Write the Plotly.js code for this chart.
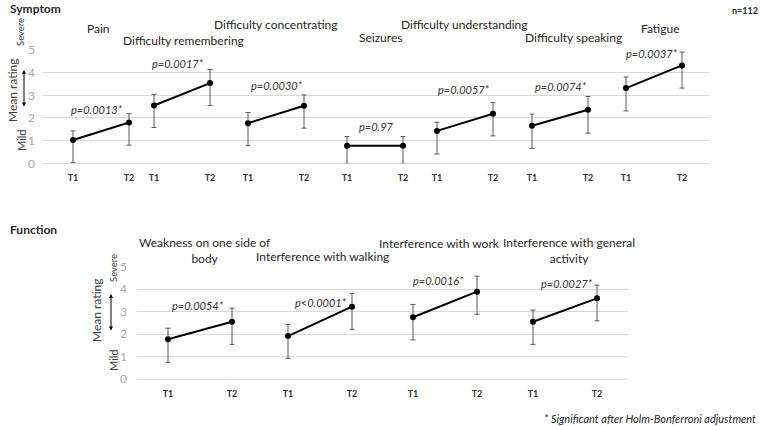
<!DOCTYPE html>
<html>
<head>
<meta charset="utf-8">
<script src="https://cdn.plot.ly/plotly-3.0.1.min.js"></script>
<style>html,body{margin:0;padding:0;background:#fff;}#chart{width:760px;height:426px;}</style>
</head>
<body>
<div id="chart"></div>
<script>
// ---------- data ----------
const timepoints = ["T1", "T2"];

const symptomNames = ["Pain", "Difficulty remembering", "Difficulty concentrating", "Seizures",
  "Difficulty understanding", "Difficulty speaking", "Fatigue"];
const symptomT1 = [1.03, 2.55, 1.77, 0.78, 1.43, 1.66, 3.32];
const symptomT2 = [1.80, 3.54, 2.54, 0.78, 2.19, 2.36, 4.32];
const symptomT1Plus = [0.40, 0.49, 0.47, 0.40, 0.38, 0.51, 0.49];
const symptomT1Minus = [0.99, 0.97, 0.99, 0.78, 1.02, 1.00, 1.01];
const symptomT2Plus = [0.39, 0.60, 0.48, 0.40, 0.49, 0.59, 0.59];
const symptomT2Minus = [1.00, 0.99, 0.99, 0.78, 0.98, 1.03, 1.00];
const symptomP = ["p=0.0013*", "p=0.0017*", "p=0.0030*", "p=0.97", "p=0.0057*", "p=0.0074*", "p=0.0037*"];

const functionNames = ["Weakness on one side of<br>body", "Interference with walking",
  "Interference with work", "Interference with general<br>activity"];
const functionT1 = [1.77, 1.91, 2.75, 2.55];
const functionT2 = [2.55, 3.22, 3.89, 3.59];
const functionT1Plus = [0.49, 0.52, 0.57, 0.52];
const functionT1Minus = [1.03, 0.99, 1.01, 1.01];
const functionT2Plus = [0.60, 0.59, 0.69, 0.59];
const functionT2Minus = [1.01, 1.01, 1.01, 1.00];
const functionP = ["p=0.0054*", "p<0.0001*", "p=0.0016*", "p=0.0027*"];

const yTicks = [0, 1, 2, 3, 4, 5];

// ---------- layout constants (pixels) ----------
const W = 760, H = 426;
const FONT = "Lato, 'Open Sans', sans-serif";
const px = x => x / W;
const py = y => 1 - y / H;

const topPanel = {plotL: 42, plotR: 710, plotT: 50, plotB: 163.3, yStandoff: 6,
  groupT1: [73, 154, 248, 347, 437, 532, 626], step: 56,
  titles: [[99, 29], [183, 40], [276, 24], [380, 38], [465, 24], [573, 38], [660, 29]],
  pvals: [[97, 110], [178, 64], [277, 85], [376, 127], [464, 90], [561, 87], [652, 53]]};
const botPanel = {plotL: 137, plotR: 628, plotT: 266.7, plotB: 379, yStandoff: 9,
  groupT1: [168, 288, 413, 533], step: 64,
  titles: [[205, 250], [322, 256], [439, 243], [569, 250]],
  pvals: [[198, 305], [321, 302], [438, 280], [567, 283]]};

const traces = [];
const layout = {
  width: W, height: H, margin: {l: 0, r: 0, t: 0, b: 0},
  paper_bgcolor: "#fff", plot_bgcolor: "rgba(0,0,0,0)",
  showlegend: false, font: {family: FONT, color: "#404040"},
  annotations: [], shapes: []
};

function yAxisDef(panel, anchor) {
  return {domain: [py(panel.plotB), py(panel.plotT)], anchor: anchor, range: [0, 5],
    tickvals: yTicks, showgrid: true, gridcolor: "#d9d9d9", gridwidth: 1,
    zeroline: true, zerolinecolor: "#d9d9d9", zerolinewidth: 1, showline: false,
    ticks: "", ticklabelstandoff: panel.yStandoff,
    tickfont: {family: FONT, size: 12, color: "#a6a6a6"}, fixedrange: true};
}

function buildPanel(panel, yName, baseX, firstX, names, t1, t2, t1p, t1m, t2p, t2m, pv) {
  const yKey = "yaxis" + (yName === "y" ? "" : yName.slice(1));
  layout[yKey] = yAxisDef(panel, baseX);
  const bKey = "xaxis" + (baseX === "x" ? "" : baseX.slice(1));
  layout[bKey] = {domain: [px(panel.plotL), px(panel.plotR)], anchor: yName, range: [0, 1],
    visible: false, fixedrange: true};
  traces.push({x: [0.5], y: [0], xaxis: baseX, yaxis: yName, mode: "markers",
    marker: {opacity: 0}, hoverinfo: "skip"});
  names.forEach((nm, i) => {
    const xn = firstX + i;
    const xid = "x" + xn;
    const p1 = panel.groupT1[i];
    layout["xaxis" + xn] = {domain: [px(p1 - panel.step / 4), px(p1 + panel.step * 1.25)],
      anchor: yName, type: "category", range: [-0.25, 1.25], showgrid: false,
      zeroline: false, showline: false, ticks: "", ticklabelstandoff: 8,
      tickfont: {family: FONT, size: 9, color: "#333", weight: "bold"}, fixedrange: true};
    traces.push({
      x: timepoints, y: [t1[i], t2[i]], xaxis: xid, yaxis: yName,
      type: "scatter", mode: "lines+markers",
      line: {color: "#000", width: 2}, marker: {color: "#000", size: 6},
      error_y: {type: "data", symmetric: false, array: [t1p[i], t2p[i]],
        arrayminus: [t1m[i], t2m[i]], color: "#595959", thickness: 1, width: 2.5},
      hoverinfo: "y"
    });
    layout.annotations.push({xref: "paper", yref: "paper", x: px(panel.titles[i][0]), y: py(panel.titles[i][1]),
      xanchor: "center", yanchor: "middle", text: nm, showarrow: false,
      font: {family: FONT, size: 12, color: "#262626"}});
    layout.annotations.push({xref: "paper", yref: "paper", x: px(panel.pvals[i][0]), y: py(panel.pvals[i][1]),
      xanchor: "center", yanchor: "middle", text: "<i>" + pv[i] + "</i>", showarrow: false,
      font: {family: FONT, size: 11, color: "#303030"}});
  });
}

buildPanel(topPanel, "y", "x", 2, symptomNames, symptomT1, symptomT2,
  symptomT1Plus, symptomT1Minus, symptomT2Plus, symptomT2Minus, symptomP);
buildPanel(botPanel, "y2", "x9", 10, functionNames, functionT1, functionT2,
  functionT1Plus, functionT1Minus, functionT2Plus, functionT2Minus, functionP);

function txt(x, y, text, opts) {
  layout.annotations.push(Object.assign({xref: "paper", yref: "paper", x: px(x), y: py(y),
    xanchor: "center", yanchor: "middle", text: text, showarrow: false,
    font: {family: FONT, size: 11, color: "#262626"}}, opts || {}));
}
// headers
txt(8, 9, "<b>Symptom</b>", {xanchor: "left", font: {family: FONT, size: 12, color: "#262626"}});
txt(745, 10, "<b>n=112</b>", {font: {family: FONT, size: 9, color: "#262626"}});
txt(8, 229, "<b>Function</b>", {xanchor: "left", font: {family: FONT, size: 12, color: "#262626"}});
txt(758, 418, "<i>* Significant after Holm-Bonferroni adjustment</i>", {xanchor: "right",
  font: {family: FONT, size: 11, color: "#262626"}});

// y-axis side labels
function sideLabels(xTitle, xSide, xArrow, yTitle, ySevere, yMild, yArrowTop, yArrowBot) {
  txt(xTitle, yTitle, "Mean rating", {textangle: -90, font: {family: FONT, size: 12, color: "#404040"}});
  txt(xSide, ySevere, "Severe", {textangle: -90, font: {family: FONT, size: 9.5, color: "#404040"}});
  txt(xSide, yMild, "Mild", {textangle: -90, font: {family: FONT, size: 11, color: "#404040"}});
  layout.annotations.push({xref: "paper", yref: "paper", x: px(xArrow), y: py(yArrowTop),
    ax: 0, ay: yArrowBot - yArrowTop, text: "", showarrow: true, arrowside: "end+start",
    arrowhead: 2, arrowsize: 0.8, arrowwidth: 1, arrowcolor: "#000", standoff: 0, startstandoff: 0});
}
sideLabels(13, 21, 24, 90, 32, 140, 70, 108);
sideLabels(96, 113, 111, 310, 268, 360, 294, 332);

Plotly.newPlot("chart", traces, layout, {staticPlot: true, displayModeBar: false});
</script>
</body>
</html>
